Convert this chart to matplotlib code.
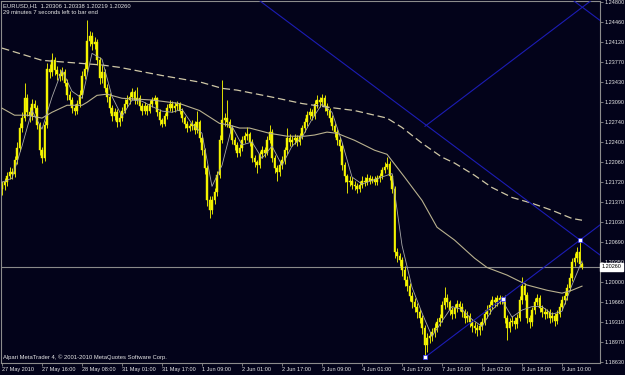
import matplotlib
matplotlib.use('Agg')
import matplotlib.pyplot as plt
import matplotlib.transforms as mtransforms

plt.rcParams['font.family'] = ['Liberation Sans', 'DejaVu Sans']

# ---------------- data (EURUSD H1) ----------------
opens = [
1.2160, 1.2166, 1.2171, 1.2181, 1.2188, 1.2185, 1.2209, 1.2229, 1.2264, 1.2281,
1.2315, 1.2291, 1.2284, 1.2305, 1.2298, 1.2269, 1.2226, 1.2212, 1.2269, 1.2366,
1.2360, 1.2380, 1.2363, 1.2356, 1.2353, 1.2360, 1.2342, 1.2320, 1.2312, 1.2298,
1.2294, 1.2305, 1.2320, 1.2354, 1.2366, 1.2414, 1.2421, 1.2408, 1.2411, 1.2380,
1.2349, 1.2360, 1.2332, 1.2318, 1.2298, 1.2284, 1.2291, 1.2274, 1.2281, 1.2294,
1.2305, 1.2312, 1.2318, 1.2325, 1.2312, 1.2315, 1.2301, 1.2294, 1.2301, 1.2294,
1.2305, 1.2312, 1.2315, 1.2291, 1.2277, 1.2271, 1.2284, 1.2298, 1.2305, 1.2298,
1.2301, 1.2305, 1.2294, 1.2281, 1.2271, 1.2264, 1.2267, 1.2271, 1.2260, 1.2274,
1.2247, 1.2226, 1.2195, 1.2140, 1.2123, 1.2140, 1.2154, 1.2183, 1.2243, 1.2277,
1.2281, 1.2274, 1.2264, 1.2243, 1.2235, 1.2222, 1.2229, 1.2243, 1.2250, 1.2253,
1.2240, 1.2212, 1.2205, 1.2200, 1.2219, 1.2226, 1.2222, 1.2243, 1.2257, 1.2212,
1.2195, 1.2188, 1.2200, 1.2209, 1.2226, 1.2247, 1.2240, 1.2243, 1.2247, 1.2240,
1.2250, 1.2264, 1.2274, 1.2286, 1.2291, 1.2284, 1.2305, 1.2312, 1.2308, 1.2315,
1.2301, 1.2294, 1.2281, 1.2267, 1.2257, 1.2243, 1.2233, 1.2200, 1.2181, 1.2171,
1.2174, 1.2167, 1.2164, 1.2160, 1.2167, 1.2174, 1.2171, 1.2178, 1.2174, 1.2176,
1.2172, 1.2178, 1.2181, 1.2192, 1.2198, 1.2202, 1.2181, 1.2160, 1.2051, 1.2044,
1.2037, 1.2020, 1.2003, 1.1993, 1.1976, 1.1965, 1.1958, 1.1948, 1.1938, 1.1921,
1.1892, 1.1904, 1.1907, 1.1914, 1.1921, 1.1931, 1.1938, 1.1960, 1.1972, 1.1965,
1.1952, 1.1945, 1.1955, 1.1962, 1.1958, 1.1948, 1.1938, 1.1941, 1.1931, 1.1924,
1.1921, 1.1917, 1.1924, 1.1931, 1.1945, 1.1952, 1.1960, 1.1969, 1.1965, 1.1972,
1.1969, 1.1972, 1.1938, 1.1921, 1.1931, 1.1934, 1.1928, 1.1938, 1.1969, 1.1993,
1.1978, 1.1938, 1.1931, 1.1952, 1.1965, 1.1972, 1.1955, 1.1948, 1.1945, 1.1948,
1.1938, 1.1941, 1.1934, 1.1945, 1.1958, 1.1969, 1.1976, 1.1990, 1.2007, 1.2034,
1.2041, 1.2051, 1.20306]

highs = [
1.2174, 1.2178, 1.2188, 1.2197, 1.2195, 1.2216, 1.2240, 1.2272, 1.2292, 1.2342,
1.2322, 1.2300, 1.2314, 1.2312, 1.2303, 1.2275, 1.2232, 1.2276, 1.2375, 1.2374,
1.2392, 1.2386, 1.2370, 1.2365, 1.2368, 1.2366, 1.2348, 1.2327, 1.2318, 1.2306,
1.2312, 1.2329, 1.2362, 1.2378, 1.2449, 1.2430, 1.2428, 1.2420, 1.2416, 1.2386,
1.2372, 1.2366, 1.2340, 1.2324, 1.2304, 1.2299, 1.2296, 1.2290, 1.2300, 1.2313,
1.2320, 1.2326, 1.2332, 1.2330, 1.2334, 1.2320, 1.2307, 1.2308, 1.2306, 1.2312,
1.2318, 1.2320, 1.2318, 1.2296, 1.2282, 1.2290, 1.2305, 1.2312, 1.2310, 1.2308,
1.2311, 1.2309, 1.2298, 1.2285, 1.2276, 1.2273, 1.2277, 1.2276, 1.2294, 1.2278,
1.2252, 1.2230, 1.2200, 1.2148, 1.2147, 1.2162, 1.2190, 1.2252, 1.2346, 1.2290,
1.2312, 1.2280, 1.2270, 1.2249, 1.2240, 1.2236, 1.2250, 1.2258, 1.2265, 1.2258,
1.2245, 1.2218, 1.2210, 1.2225, 1.2233, 1.2232, 1.2250, 1.2269, 1.2262, 1.2218,
1.2200, 1.2207, 1.2216, 1.2232, 1.2264, 1.2254, 1.2250, 1.2253, 1.2252, 1.2256,
1.2270, 1.2281, 1.2293, 1.2299, 1.2297, 1.2312, 1.2320, 1.2318, 1.2323, 1.2320,
1.2307, 1.2299, 1.2286, 1.2272, 1.2262, 1.2249, 1.2238, 1.2205, 1.2186, 1.2181,
1.2180, 1.2173, 1.2170, 1.2174, 1.2181, 1.2180, 1.2185, 1.2183, 1.2182, 1.2181,
1.2184, 1.2187, 1.2198, 1.2205, 1.2214, 1.2207, 1.2186, 1.2165, 1.2058, 1.2050,
1.2043, 1.2027, 1.2010, 1.1999, 1.1983, 1.1972, 1.1964, 1.1954, 1.1944, 1.1927,
1.1912, 1.1915, 1.1922, 1.1929, 1.1938, 1.1946, 1.1968, 1.1991, 1.1979, 1.1970,
1.1958, 1.1962, 1.1970, 1.1968, 1.1964, 1.1954, 1.1950, 1.1947, 1.1937, 1.1932,
1.1928, 1.1931, 1.1938, 1.1952, 1.1960, 1.1967, 1.1976, 1.1975, 1.1978, 1.1978,
1.1976, 1.1977, 1.1944, 1.1938, 1.1942, 1.1940, 1.1945, 1.1976, 1.2008, 1.1999,
1.1983, 1.1944, 1.1958, 1.1972, 1.1980, 1.1977, 1.1961, 1.1955, 1.1954, 1.1953,
1.1948, 1.1947, 1.1952, 1.1964, 1.1976, 1.1983, 1.1997, 1.2015, 1.2041, 1.2049,
1.2060, 1.2072, 1.20338]

lows = [
1.2150, 1.2158, 1.2165, 1.2176, 1.2177, 1.2180, 1.2203, 1.2224, 1.2258, 1.2276,
1.2284, 1.2275, 1.2278, 1.2290, 1.2262, 1.2218, 1.2204, 1.2208, 1.2264, 1.2350,
1.2354, 1.2355, 1.2347, 1.2344, 1.2347, 1.2336, 1.2312, 1.2304, 1.2290, 1.2286,
1.2288, 1.2300, 1.2316, 1.2348, 1.2360, 1.2405, 1.2398, 1.2400, 1.2372, 1.2340,
1.2342, 1.2325, 1.2309, 1.2290, 1.2276, 1.2277, 1.2266, 1.2268, 1.2276, 1.2289,
1.2300, 1.2306, 1.2312, 1.2305, 1.2306, 1.2295, 1.2287, 1.2288, 1.2286, 1.2289,
1.2300, 1.2306, 1.2284, 1.2270, 1.2265, 1.2267, 1.2279, 1.2293, 1.2291, 1.2292,
1.2295, 1.2288, 1.2274, 1.2264, 1.2257, 1.2259, 1.2261, 1.2253, 1.2255, 1.2240,
1.2218, 1.2186, 1.2130, 1.2109, 1.2116, 1.2133, 1.2148, 1.2178, 1.2238, 1.2268,
1.2266, 1.2256, 1.2236, 1.2227, 1.2214, 1.2216, 1.2224, 1.2238, 1.2244, 1.2233,
1.2205, 1.2197, 1.2187, 1.2195, 1.2212, 1.2215, 1.2217, 1.2238, 1.2205, 1.2187,
1.2174, 1.2182, 1.2194, 1.2203, 1.2220, 1.2233, 1.2234, 1.2237, 1.2233, 1.2235,
1.2245, 1.2258, 1.2268, 1.2280, 1.2277, 1.2279, 1.2299, 1.2300, 1.2302, 1.2294,
1.2287, 1.2274, 1.2260, 1.2249, 1.2235, 1.2225, 1.2192, 1.2172, 1.2152, 1.2164,
1.2160, 1.2157, 1.2153, 1.2155, 1.2162, 1.2165, 1.2166, 1.2168, 1.2169, 1.2166,
1.2167, 1.2172, 1.2176, 1.2187, 1.2193, 1.2175, 1.2152, 1.2042, 1.2035, 1.2028,
1.2011, 1.1994, 1.1984, 1.1967, 1.1956, 1.1949, 1.1939, 1.1929, 1.1911, 1.1871,
1.1880, 1.1895, 1.1899, 1.1906, 1.1914, 1.1924, 1.1932, 1.1954, 1.1957, 1.1944,
1.1936, 1.1939, 1.1949, 1.1950, 1.1940, 1.1930, 1.1932, 1.1923, 1.1915, 1.1912,
1.1907, 1.1910, 1.1918, 1.1926, 1.1939, 1.1946, 1.1954, 1.1958, 1.1959, 1.1962,
1.1963, 1.1930, 1.1900, 1.1914, 1.1924, 1.1920, 1.1922, 1.1933, 1.1962, 1.1970,
1.1930, 1.1922, 1.1925, 1.1946, 1.1960, 1.1948, 1.1940, 1.1937, 1.1938, 1.1930,
1.1931, 1.1925, 1.1928, 1.1940, 1.1952, 1.1962, 1.1970, 1.1984, 1.2001, 1.2027,
1.2035, 1.2025, 1.20219]

closes = [
1.2166, 1.2171, 1.2181, 1.2188, 1.2185, 1.2209, 1.2229, 1.2264, 1.2281, 1.2315,
1.2291, 1.2284, 1.2305, 1.2298, 1.2269, 1.2226, 1.2212, 1.2269, 1.2366, 1.2360,
1.2380, 1.2363, 1.2356, 1.2353, 1.2360, 1.2342, 1.2320, 1.2312, 1.2298, 1.2294,
1.2305, 1.2320, 1.2354, 1.2366, 1.2414, 1.2421, 1.2408, 1.2411, 1.2380, 1.2349,
1.2360, 1.2332, 1.2318, 1.2298, 1.2284, 1.2291, 1.2274, 1.2281, 1.2294, 1.2305,
1.2312, 1.2318, 1.2325, 1.2312, 1.2315, 1.2301, 1.2294, 1.2301, 1.2294, 1.2305,
1.2312, 1.2315, 1.2291, 1.2277, 1.2271, 1.2284, 1.2298, 1.2305, 1.2298, 1.2301,
1.2305, 1.2294, 1.2281, 1.2271, 1.2264, 1.2267, 1.2271, 1.2260, 1.2274, 1.2247,
1.2226, 1.2195, 1.2140, 1.2123, 1.2140, 1.2154, 1.2183, 1.2243, 1.2277, 1.2281,
1.2274, 1.2264, 1.2243, 1.2235, 1.2222, 1.2229, 1.2243, 1.2250, 1.2253, 1.2240,
1.2212, 1.2205, 1.2200, 1.2219, 1.2226, 1.2222, 1.2243, 1.2257, 1.2212, 1.2195,
1.2188, 1.2200, 1.2209, 1.2226, 1.2247, 1.2240, 1.2243, 1.2247, 1.2240, 1.2250,
1.2264, 1.2274, 1.2286, 1.2291, 1.2284, 1.2305, 1.2312, 1.2308, 1.2315, 1.2301,
1.2294, 1.2281, 1.2267, 1.2257, 1.2243, 1.2233, 1.2200, 1.2181, 1.2171, 1.2174,
1.2167, 1.2164, 1.2160, 1.2167, 1.2174, 1.2171, 1.2178, 1.2174, 1.2176, 1.2172,
1.2178, 1.2181, 1.2192, 1.2198, 1.2202, 1.2181, 1.2160, 1.2051, 1.2044, 1.2037,
1.2020, 1.2003, 1.1993, 1.1976, 1.1965, 1.1958, 1.1948, 1.1938, 1.1921, 1.1892,
1.1904, 1.1907, 1.1914, 1.1921, 1.1931, 1.1938, 1.1960, 1.1972, 1.1965, 1.1952,
1.1945, 1.1955, 1.1962, 1.1958, 1.1948, 1.1938, 1.1941, 1.1931, 1.1924, 1.1921,
1.1917, 1.1924, 1.1931, 1.1945, 1.1952, 1.1960, 1.1969, 1.1965, 1.1972, 1.1969,
1.1972, 1.1938, 1.1921, 1.1931, 1.1934, 1.1928, 1.1938, 1.1969, 1.1993, 1.1978,
1.1938, 1.1931, 1.1952, 1.1965, 1.1972, 1.1955, 1.1948, 1.1945, 1.1948, 1.1938,
1.1941, 1.1934, 1.1945, 1.1958, 1.1969, 1.1976, 1.1990, 1.2007, 1.2034, 1.2041,
1.2051, 1.20306, 1.20260]

# fast moving average, read every 4th bar
fast_ma_bars = list(range(0, 233, 4))
fast_ma = [
1.2171, 1.2178, 1.2233, 1.2294, 1.2262, 1.2317, 1.2363, 1.2327, 1.2315, 1.2392,
1.2382, 1.2318, 1.2284, 1.2312, 1.2310, 1.2301, 1.2293, 1.2291, 1.2296, 1.2271,
1.2255, 1.2164, 1.2200, 1.2267, 1.2235, 1.2240, 1.2212, 1.2233, 1.2200, 1.2233,
1.2248, 1.2279, 1.2305, 1.2291, 1.2240, 1.2180, 1.2168, 1.2174, 1.2180, 1.2186,
1.2063, 1.1991, 1.1947, 1.1907, 1.1933, 1.1958, 1.1953, 1.1936, 1.1924, 1.1952,
1.1969, 1.1940, 1.1952, 1.1958, 1.1958, 1.1945, 1.1950, 1.1995, 1.2036]

# medium moving average (solid)
mid_ma_bars = [0, 5, 10, 16, 20, 26, 32, 34, 38, 42, 48, 60, 71, 79, 87, 91, 95, 99,
               107, 114, 121, 125, 130, 134, 141, 149, 154, 161, 168, 174, 181, 189,
               194, 202, 210, 218, 224, 228, 232]
mid_ma = [1.2298, 1.2286, 1.2286, 1.2281, 1.2291, 1.2303, 1.2303, 1.2308, 1.2320, 1.2322,
          1.2315, 1.2312, 1.2306, 1.2294, 1.2272, 1.2269, 1.2264, 1.2264, 1.2255, 1.2250,
          1.2250, 1.2252, 1.2257, 1.2255, 1.2243, 1.2226, 1.2219, 1.2180, 1.2140, 1.2094,
          1.2072, 1.2041, 1.2025, 1.2012, 1.1995, 1.1986, 1.1981, 1.1986, 1.1993]

# slow moving average (dashed)
slow_ma_bars = [0, 16, 40, 47, 64, 80, 88, 94, 108, 120, 128, 141, 154, 160, 168, 176,
                181, 189, 196, 204, 212, 220, 228, 232]
slow_ma = [1.2401, 1.2380, 1.2372, 1.2368, 1.2354, 1.2342, 1.2332, 1.2329, 1.2317, 1.2306,
           1.2301, 1.2294, 1.2281, 1.2265, 1.2238, 1.2214, 1.2204, 1.2183, 1.2162, 1.2145,
           1.2135, 1.2123, 1.2109, 1.2106]

# trend channel anchors (bar index, price)
down_line = [(102.8, 1.2483), (231.2, 1.2072)]
down_parallel_point = (228.4, 1.2483)
up_line = [(169.2, 1.1871), (231.2, 1.2072)]
up_parallel_point = (169.2, 1.2267)
marker_bars = [169.2, 200.4, 231.2]
marker_prices = [1.1871, 1.1971, 1.2072]

price_ticks = [1.24800, 1.24460, 1.24120, 1.23770, 1.23430, 1.23090, 1.22740, 1.22400,
               1.22060, 1.21720, 1.21370, 1.21030, 1.20690, 1.20350, 1.20000, 1.19660,
               1.19310, 1.18970, 1.18630]
time_tick_bars = [0, 16, 32, 48, 64, 80, 96, 112, 128, 144, 160, 176, 192, 208, 224]
time_tick_labels = ['27 May 2010', '27 May 16:00', '28 May 08:00', '31 May 01:00',
                    '31 May 17:00', '1 Jun 09:00', '2 Jun 01:00', '2 Jun 17:00',
                    '3 Jun 09:00', '4 Jun 01:00', '4 Jun 17:00', '7 Jun 10:00',
                    '8 Jun 02:00', '8 Jun 18:00', '9 Jun 10:00']
last_price = 1.20260

# ---------------- drawing ----------------
BG = '#03031a'
AXC = '#8c8c8c'
TXT = '#e6e6e6'
FS = 4.0

fig = plt.figure(figsize=(6.25, 3.75), dpi=100, facecolor=BG)
ax = fig.add_axes([1/625, 12/375, 599/625, 362/375], facecolor=BG)
ax.set_xlim(-0.4, 239.2)
ax.set_ylim(1.18613, 1.24817)

n = len(closes)
bars_x = list(range(n))
# wicks
ax.vlines(bars_x, lows, highs, colors='#e0e000', linewidth=0.7, zorder=2)
# bodies
body_bottom = [min(o, c) for o, c in zip(opens, closes)]
body_h = [max(abs(c - o), 0.00006) for o, c in zip(opens, closes)]
ax.bar(bars_x, body_h, bottom=body_bottom, width=0.66, color='#f4f400',
       edgecolor='#f4f400', linewidth=0.3, zorder=2)

# moving averages
ax.plot(slow_ma_bars, slow_ma, color='#cfc7a6', linewidth=0.9, dashes=(6, 3), zorder=3)
ax.plot(mid_ma_bars, mid_ma, color='#b9b18e', linewidth=0.8, zorder=3)
ax.plot(fast_ma_bars, fast_ma, color='#a8a8a8', linewidth=0.6, zorder=3)

# current price line
ax.axhline(last_price, color='#8a8a8a', linewidth=0.8, zorder=1)

# trend channels
BLUE = '#1c1cb4'
ax.axline(down_line[0], down_line[1], color=BLUE, linewidth=0.8, zorder=4)
slope_dn = (down_line[1][1] - down_line[0][1]) / (down_line[1][0] - down_line[0][0])
ax.axline(down_parallel_point, slope=slope_dn, color=BLUE, linewidth=0.8, zorder=4)
slope_up = (up_line[1][1] - up_line[0][1]) / (up_line[1][0] - up_line[0][0])
x_end = 245
ax.plot([up_line[0][0], x_end],
        [up_line[0][1], up_line[0][1] + slope_up * (x_end - up_line[0][0])],
        color=BLUE, linewidth=0.8, zorder=4)
ax.plot([up_parallel_point[0], x_end],
        [up_parallel_point[1], up_parallel_point[1] + slope_up * (x_end - up_parallel_point[0])],
        color=BLUE, linewidth=0.8, zorder=4)
ax.plot(marker_bars, marker_prices, linestyle='none', marker='s', markersize=2.2,
        markerfacecolor='white', markeredgecolor='#3030ff', markeredgewidth=0.5, zorder=5)

# axes styling
for s in ['left', 'top', 'right', 'bottom']:
    ax.spines[s].set_color(AXC)
    ax.spines[s].set_linewidth(0.8)
ax.yaxis.tick_right()
ax.set_yticks(price_ticks)
ax.set_yticklabels([f'{p:.5f}' for p in price_ticks])
ax.tick_params(axis='y', colors=AXC, labelcolor=TXT, labelsize=FS, length=2.5,
               width=0.6, pad=1.0, direction='out')
ax.set_xticks(time_tick_bars)
ax.set_xticklabels(time_tick_labels)
ax.tick_params(axis='x', colors=AXC, labelcolor=TXT, labelsize=FS, length=2.5,
               width=0.6, pad=0.6, direction='out')
for lbl in ax.get_xticklabels():
    lbl.set_ha('left')

# current price box
trans = mtransforms.blended_transform_factory(ax.transAxes, ax.transData)
ax.text(1.003, last_price, f'{last_price:.5f}', transform=trans, fontsize=FS,
        color='black', va='center', ha='left', clip_on=False, zorder=10,
        bbox=dict(boxstyle='square,pad=0.25', facecolor='white', edgecolor='white'))

# header and footer texts
fig.text(3/625, 1 - 6/375, 'EURUSD,H1  1.20306 1.20338 1.20219 1.20260', color=TXT,
         fontsize=4.2, va='center', ha='left')
fig.text(3/625, 1 - 13/375, '29 minutes 7 seconds left to bar end', color=TXT,
         fontsize=4.2, va='center', ha='left')
fig.text(3/625, 1 - 357/375, 'Alpari MetaTrader 4, \u00a9 2001-2010 MetaQuotes Software Corp.',
         color=TXT, fontsize=4.2, va='center', ha='left')

fig.savefig('out.png', dpi=100, facecolor=BG)
